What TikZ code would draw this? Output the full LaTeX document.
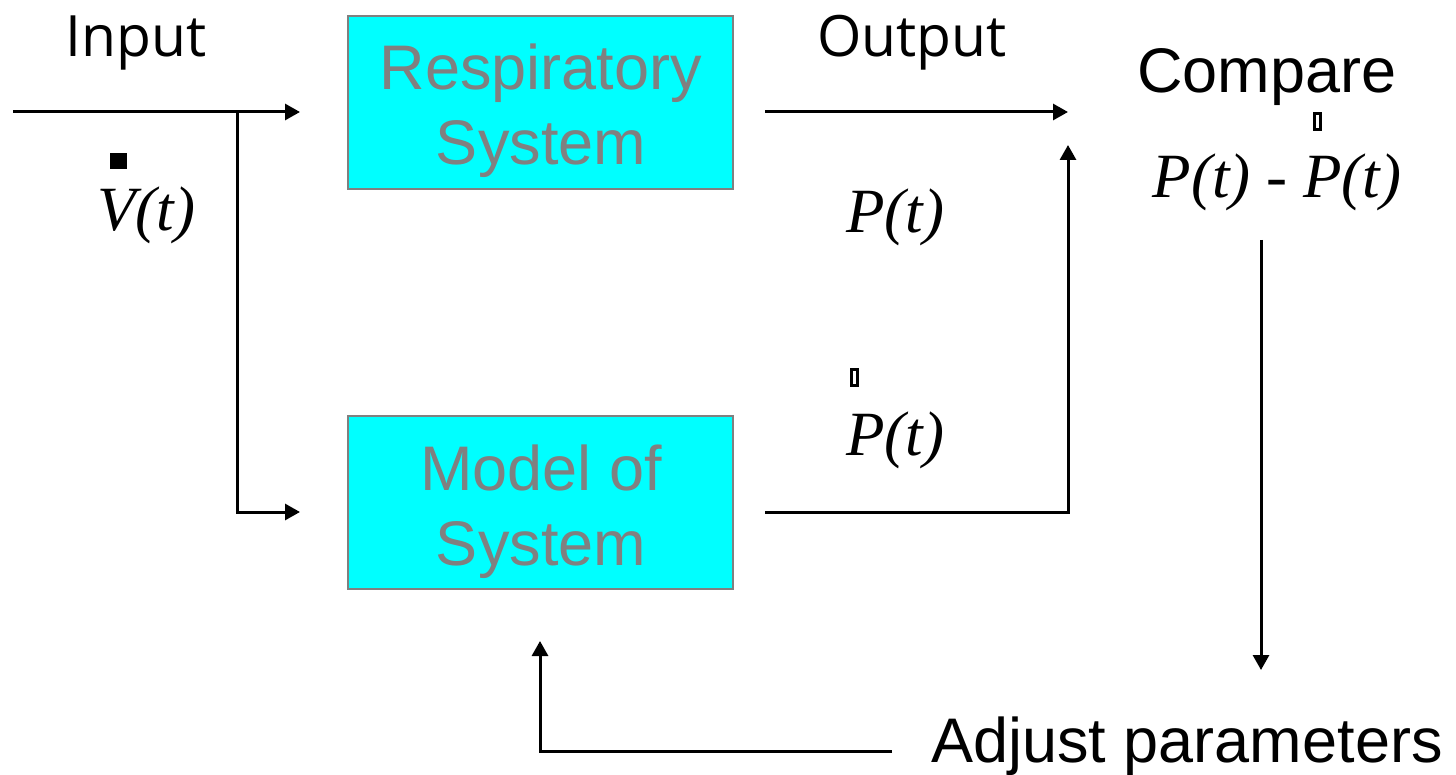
\documentclass[tikz,border=0pt]{standalone}
\usepackage{fontspec}
\setmainfont{Liberation Sans}
\newfontfamily\arialf{Liberation Sans}
\newfontfamily\uisans{Open Sans}
\newfontfamily\romanf{Liberation Serif}
\usetikzlibrary{arrows.meta}
\definecolor{boxfill}{HTML}{00FFFF}
\definecolor{boxgray}{HTML}{808080}
\tikzset{
  block/.style={draw=boxgray, line width=2.4pt, fill=boxfill, minimum width=385pt, minimum height=173pt, inner sep=0pt},
  blocktext/.style={text=boxgray, font=\arialf\fontsize{63}{75}\selectfont, align=center, inner sep=0pt, anchor=base},
  heading/.style={font=\uisans\fontsize{57}{70}\selectfont, inner sep=0pt, anchor=base},
  caption/.style={font=\arialf\fontsize{63}{70}\selectfont, inner sep=0pt, anchor=base},
  signal/.style={font=\romanf\itshape\fontsize{63}{70}\selectfont, inner sep=0pt, anchor=base},
  wire/.style={line width=3pt},
  arr/.style={wire, -{Triangle[length=15pt,width=16pt]}},
}
\begin{document}
\begin{tikzpicture}[x=1pt,y=-1pt]
\useasboundingbox (0,0) rectangle (1456,775);

% blocks
\node[block] (rs) at (540.5,102.5) {};
\node[block] (ms) at (540.5,502.5) {};
\node[blocktext] (rstext) at (541,90) {Respiratory};
\node[blocktext] (rstext2) at (541,165) {System};
\node[blocktext] (mstext) at (541,490) {Model of};
\node[blocktext] (mstext2) at (541,565) {System};

% labels
\node[heading] (input) at (136,57) {Input};
\node[heading] (output) at (912,57) {Output};
\node[caption] (compare) at (1267,93) {Compare};
\node[caption] (adjust) at (1187,762) {Adjust parameters};
\node[signal] (vt) at (146,231) {V(t)};
\node[signal] (pt) at (895,233) {P(t)};
\node[signal] (pmt) at (895,455) {P(t)};
\node[signal] (diff) at (1277,198) {P(t) - P(t)};

% glyph marks above the signals
\fill (110,153) rectangle (127,169);
\draw[line width=2.2pt] (851.5,369.5) rectangle (857.5,385.5);
\draw[line width=2.2pt] (1314.5,113.5) rectangle (1320.5,129.5);

% connector points
\coordinate (in) at (13,112);
\coordinate (split) at (237,112);
\coordinate (rsin) at (300,112);
\coordinate (splitlow) at (237,512);
\coordinate (msin) at (300,512);
\coordinate (rsout) at (765,112);
\coordinate (cmpin) at (1068,112);
\coordinate (msout) at (765,512);
\coordinate (corner) at (1068,512);
\coordinate (cmpin2) at (1068,145);
\coordinate (cmpout) at (1261,240);
\coordinate (adjin) at (1261,670);
\coordinate (adjout) at (892,751);
\coordinate (adjcorner) at (540,751);
\coordinate (msfb) at (540,641);

% connectors
\draw[arr] (in) -- (rsin);
\draw[arr] (split) -- (splitlow) -- (msin);
\draw[arr] (rsout) -- (cmpin);
\draw[arr] (msout) -- (corner) -- (cmpin2);
\draw[arr] (cmpout) -- (adjin);
\draw[arr] (adjout) -- (adjcorner) -- (msfb);
\end{tikzpicture}
\end{document}
